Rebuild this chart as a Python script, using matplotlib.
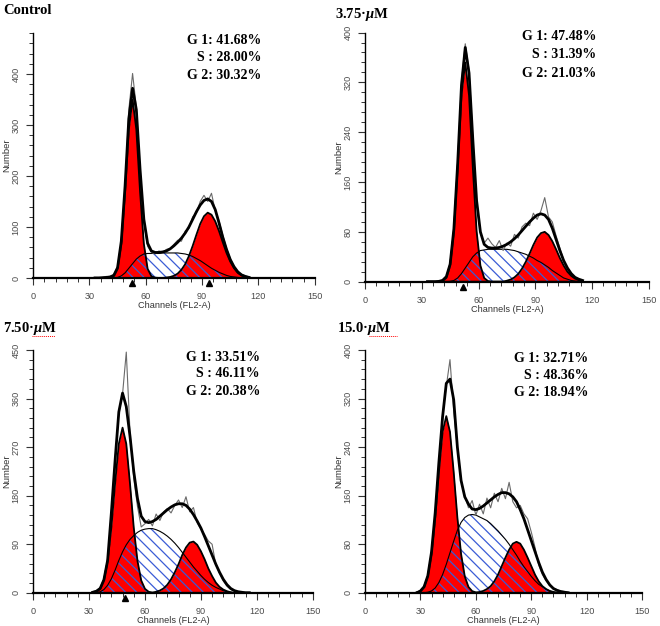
import numpy as np
import matplotlib
matplotlib.use('Agg')
import matplotlib.pyplot as plt
import matplotlib.transforms as mtransforms
from matplotlib.lines import Line2D
from matplotlib.ticker import MultipleLocator

plt.rcParams['font.family'] = ['Liberation Sans', 'DejaVu Sans']
plt.rcParams['mathtext.fontset'] = 'custom'
plt.rcParams['mathtext.rm'] = 'Liberation Serif:bold'
plt.rcParams['mathtext.it'] = 'Liberation Serif:italic:bold'
plt.rcParams['hatch.linewidth'] = 0.9

# channel grids (FL2-A)
ctrl_ch = list(range(33, 116, 2))
b_ch = list(range(33, 116, 2))
c_ch = list(range(32, 117, 2))
d_ch = list(range(28, 111, 2))

# Control
ctrl_g1 = [0, 0, 0, 0, 0.5, 3.5, 18, 67, 168, 291, 350, 291, 168, 67, 18, 3.5, 0.5,
           0, 0, 0, 0, 0, 0, 0, 0, 0, 0, 0, 0, 0, 0, 0, 0, 0, 0, 0, 0, 0, 0, 0, 0, 0]
ctrl_s = [0, 0, 0, 0, 0, 0, 1, 4, 10, 19, 28, 37, 43, 47, 48, 48, 48, 48, 49, 49, 49,
          49, 49, 48, 47, 45, 42, 38, 34, 29, 24, 19, 15, 11, 8, 5, 3, 2, 1, 0, 0, 0]
ctrl_g2 = [0, 0, 0, 0, 0, 0, 0, 0, 0, 0, 0, 0, 0, 0, 0, 0, 0, 0, 0, 0.8, 1.9, 4.2,
           8.5, 16, 27, 43, 63, 85, 106, 121, 128, 124, 111, 92, 70, 49, 32, 19, 10, 5, 2.5, 1]
ctrl_env = [0, 0, 0.5, 1, 2, 5, 20, 72, 180, 312, 372, 330, 212, 115, 68, 53, 50, 50, 51, 53,
            57, 63, 70, 78, 88, 100, 115, 130, 143, 152, 155, 150, 134, 108, 80, 56, 36, 22,
            12, 6, 3, 1]
ctrl_raw = [0, 0, 1, 3, 2, 7, 22, 70, 176, 330, 401, 335, 208, 108, 62, 50, 47, 53, 50, 56,
            58, 66, 74, 72, 92, 97, 120, 127, 150, 162, 150, 166, 132, 112, 84, 58, 38, 22,
            12, 7, 4, 2]
ctrl_marks = [52.8, 93.6]
ctrl_stats = ['G 1: 41.68%', 'S : 28.00%', 'G 2: 30.32%']

# 3.75 uM
b_g1 = [0, 0, 0, 0, 1, 6, 26, 81, 183, 299, 352, 299, 183, 81, 26, 6, 1,
        0, 0, 0, 0, 0, 0, 0, 0, 0, 0, 0, 0, 0, 0, 0, 0, 0, 0, 0, 0, 0, 0, 0, 0, 0]
b_s = [0, 0, 0, 0, 0, 0, 0.5, 2, 6, 13, 22, 31, 40, 46, 50, 51, 52, 52, 52, 52, 52,
       52, 51, 50, 48, 46, 44, 41, 38, 34, 31, 27, 23, 18, 14, 10, 6, 4, 2, 1, 0, 0]
b_g2 = [0, 0, 0, 0, 0, 0, 0, 0, 0, 0, 0, 0, 0, 0, 0, 0, 0, 0, 0, 0, 0, 1.6,
        3.5, 7, 12.5, 21, 32, 45, 59, 71, 78, 80, 75, 65, 52, 38, 26, 16, 9.4, 5, 2.4, 1]
b_env = [0, 0, 0, 0.5, 2, 8, 28, 85, 190, 315, 376, 335, 228, 130, 80, 60, 55, 54, 54, 55,
         57, 60, 64, 69, 75, 82, 89, 96, 102, 107, 109, 107, 100, 86, 68, 50, 34, 22, 13, 7,
         4, 2]
b_raw = [0, 0, 0, 1, 3, 9, 30, 88, 195, 322, 382, 340, 232, 126, 78, 62, 70, 61, 55, 66,
         50, 62, 57, 76, 70, 88, 94, 90, 110, 100, 114, 135, 104, 96, 74, 54, 35, 22, 12, 7,
         4, 2]
b_marks = [51.9]
b_stats = ['G 1: 47.48%', 'S : 31.39%', 'G 2: 21.03%']

# 7.50 uM
c_g1 = [0.4, 1.9, 7.4, 23, 59, 121, 202, 276, 306, 276, 202, 121, 59, 23, 7.4, 1.9, 0.4,
        0, 0, 0, 0, 0, 0, 0, 0, 0, 0, 0, 0, 0, 0, 0, 0, 0, 0, 0, 0, 0, 0, 0, 0, 0, 0]
c_s = [0, 0, 2, 6, 14, 26, 42, 60, 76, 89, 99, 106, 112, 116, 118, 119, 119, 117, 114, 110,
       105, 99, 92, 84, 75, 66, 57, 48, 40, 32, 25, 19, 14, 10, 7, 4, 2, 1, 0, 0, 0, 0, 0]
c_g2 = [0, 0, 0, 0, 0, 0, 0, 0, 0, 0, 0, 0, 0, 0, 0, 0, 0, 2, 4.2, 8.2, 15, 25, 38, 53,
        70, 84, 93, 95, 89, 77, 62, 45, 31, 19, 11, 6, 3, 1, 0, 0, 0, 0, 0]
c_env = [1, 3, 8, 24, 60, 148, 245, 335, 370, 345, 290, 225, 175, 142, 132, 130, 132, 136,
         142, 148, 154, 159, 163, 165, 165, 162, 155, 145, 133, 120, 104, 87, 70, 53, 38,
         25, 15, 8, 4, 2, 1, 0, 0]
c_raw = [2, 4, 10, 26, 62, 150, 248, 332, 368, 446, 298, 212, 160, 122, 128, 136, 124, 146,
         134, 150, 156, 148, 162, 172, 158, 178, 150, 158, 130, 118, 108, 96, 90, 52, 36,
         22, 12, 6, 3, 2, 1, 1, 1]
c_marks = [49.5]
c_stats = ['G 1: 33.51%', 'S : 46.11%', 'G 2: 20.38%']

# 15.0 uM
d_g1 = [0.7, 2.8, 9.7, 27, 64, 124, 199, 265, 291, 265, 199, 124, 64, 27, 9.7, 2.8, 0.7,
        0, 0, 0, 0, 0, 0, 0, 0, 0, 0, 0, 0, 0, 0, 0, 0, 0, 0, 0, 0, 0, 0, 0, 0, 0]
d_s = [0, 0, 0, 1, 3, 8, 17, 30, 47, 66, 85, 103, 116, 124, 128, 129, 128, 125, 122, 119,
       114, 108, 102, 95, 88, 80, 71, 62, 52, 43, 35, 27, 20, 14, 10, 6, 3, 1, 0, 0, 0, 0]
d_g2 = [0, 0, 0, 0, 0, 0, 0, 0, 0, 0, 0, 0, 0, 0, 0, 0, 0, 1.4, 3.1, 6.2, 11, 19, 30, 44,
        58, 71, 81, 84, 81, 71, 58, 44, 30, 19, 11, 6.2, 3.1, 1.4, 0.5, 0, 0, 0]
d_env = [0, 3, 10, 28, 67, 132, 215, 290, 345, 352, 318, 240, 185, 158, 146, 138, 137, 139,
         143, 148, 153, 158, 162, 165, 165, 163, 158, 150, 137, 122, 104, 86, 68, 50, 34,
         22, 13, 7, 4, 2, 1, 0]
d_raw = [1, 3, 8, 28, 66, 130, 212, 292, 340, 384, 300, 238, 185, 160, 140, 152, 128, 146,
         130, 156, 140, 164, 150, 172, 155, 182, 150, 140, 144, 130, 122, 100, 75, 46, 30,
         20, 12, 8, 5, 3, 2, 1]
d_marks = []
d_stats = ['G 1: 32.71%', 'S : 48.36%', 'G 2: 18.94%']

RED = '#ff0000'
BLUE = '#3a5cd6'


def draw_panel(ax, ch, g1, s, g2, env, raw, ymax, major, marks, stats, stat_pos):
    ax.fill_between(ch, g1, color=RED, lw=0, zorder=2)
    ax.fill_between(ch, g2, color=RED, lw=0, zorder=2)
    ax.fill_between(ch, s, facecolor='none', edgecolor=BLUE, lw=0,
                    hatch='\\\\\\', zorder=3)
    ax.plot(ch, s, color='black', lw=0.8, zorder=4)
    ax.plot(ch, g1, color='black', lw=1.3, zorder=4)
    ax.plot(ch, g2, color='black', lw=1.3, zorder=4)
    ax.plot(ch, raw, color='#6a6a6a', lw=0.8, zorder=5)
    ax.plot(ch, env, color='black', lw=2.0, zorder=6)

    # G1 / G2 mean markers under the axis
    trans = mtransforms.blended_transform_factory(ax.transData, ax.transAxes)
    if marks:
        ax.plot(marks, [-0.022] * len(marks), '^', color='black', ms=5,
                transform=trans, clip_on=False, zorder=7)

    ax.set_xlim(0, 150)
    ax.set_ylim(0, ymax)
    ax.xaxis.set_major_locator(MultipleLocator(30))
    ax.xaxis.set_minor_locator(MultipleLocator(6))
    ax.yaxis.set_major_locator(MultipleLocator(major))
    ax.yaxis.set_minor_locator(MultipleLocator(major / 5))
    for sp in ['top', 'right']:
        ax.spines[sp].set_visible(False)
    ax.spines['left'].set_linewidth(1.0)
    ax.spines['bottom'].set_linewidth(1.6)
    ax.tick_params(axis='both', which='major', direction='out', length=5, width=0.8,
                   color='#333333', labelcolor='#4a4a4a', labelsize=6.6)
    ax.tick_params(axis='both', which='minor', direction='out', length=3, width=0.7,
                   color='#333333')
    ax.tick_params(axis='y', which='major', pad=4, labelrotation=90)
    ax.tick_params(axis='x', which='major', pad=5)
    for lab in ax.get_yticklabels():
        lab.set_va('center')
    ax.set_ylabel('Number', fontsize=6.8, labelpad=0.5, color='#333333')
    ax.set_xlabel('Channels (FL2-A)', fontsize=6.6, labelpad=0.3, color='#333333')

    xr, ys = stat_pos
    for txt, yy in zip(stats, ys):
        ax.text(xr, yy, txt, transform=ax.transAxes, ha='right', va='center',
                family='Liberation Serif', weight='bold', fontsize=10)


fig = plt.figure(figsize=(6.6, 6.26), dpi=100)

ax_a = fig.add_axes([0.050, 0.556, 0.427, 0.391])
ax_b = fig.add_axes([0.553, 0.550, 0.430, 0.398])
ax_c = fig.add_axes([0.050, 0.053, 0.424, 0.388])
ax_d = fig.add_axes([0.553, 0.053, 0.420, 0.388])

draw_panel(ax_a, ctrl_ch, ctrl_g1, ctrl_s, ctrl_g2, ctrl_env, ctrl_raw, 480, 100,
           ctrl_marks, ctrl_stats, (0.81, [0.971, 0.902, 0.829]))
draw_panel(ax_b, b_ch, b_g1, b_s, b_g2, b_env, b_raw, 400, 80,
           b_marks, b_stats, (0.816, [0.985, 0.910, 0.835]))
draw_panel(ax_c, c_ch, c_g1, c_s, c_g2, c_env, c_raw, 450, 90,
           c_marks, c_stats, (0.811, [0.970, 0.904, 0.829]))
draw_panel(ax_d, d_ch, d_g1, d_s, d_g2, d_env, d_raw, 400, 80,
           d_marks, d_stats, (0.806, [0.966, 0.894, 0.824]))

title_kw = dict(family='Liberation Serif', weight='bold', fontsize=10.5, va='top')
fig.text(0.005, 0.993, 'Control', **title_kw)
fig.text(0.508, 0.990, '3.75\u00b7$\\mu$M', **title_kw)
fig.text(0.005, 0.489, '7.50\u00b7$\\mu$M', **title_kw)
fig.text(0.510, 0.489, '15.0\u00b7$\\mu$M', **title_kw)

# spell-check squiggles under the unit in the lower titles
for x0, x1 in [(0.048, 0.084), (0.559, 0.602)]:
    fig.add_artist(Line2D([x0, x1], [0.464, 0.464], transform=fig.transFigure,
                          color='red', lw=0.7, ls=(0, (1, 1))))

fig.savefig('out.png', dpi=100)
